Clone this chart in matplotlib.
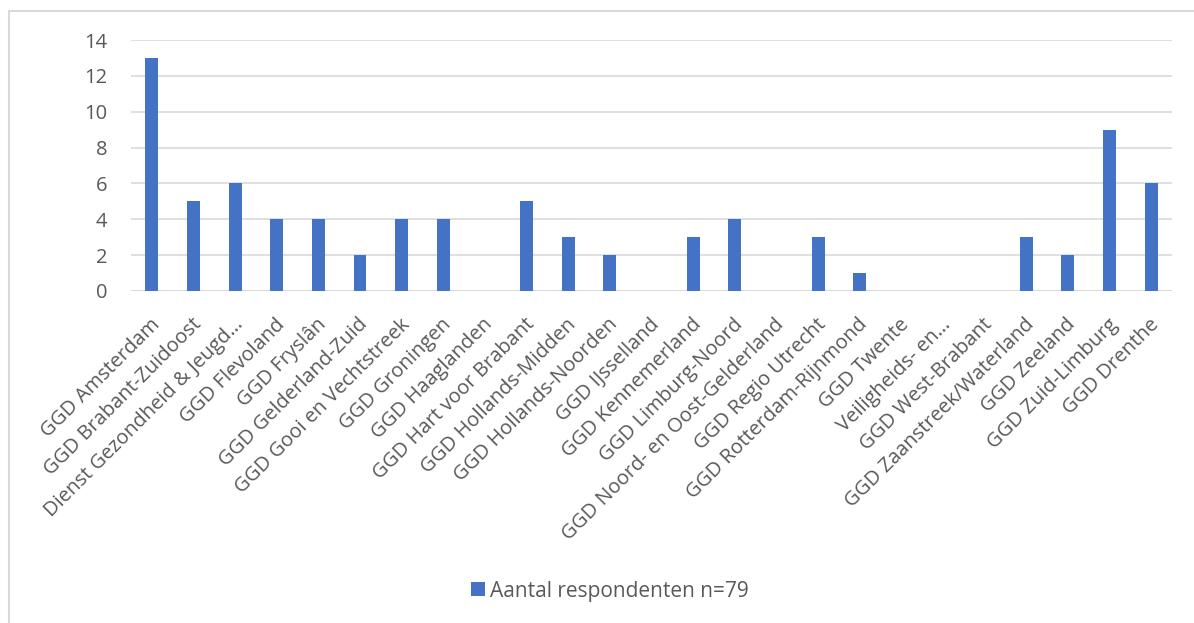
import matplotlib.pyplot as plt
from matplotlib.patches import Rectangle
import matplotlib.transforms as mtransforms

regions = [
    "GGD Amsterdam", "GGD Brabant-Zuidoost", "Dienst Gezondheid & Jeugd…",
    "GGD Flevoland", "GGD Fryslân", "GGD Gelderland-Zuid",
    "GGD Gooi en Vechtstreek", "GGD Groningen", "GGD Haaglanden",
    "GGD Hart voor Brabant", "GGD Hollands-Midden", "GGD Hollands-Noorden",
    "GGD IJsselland", "GGD Kennemerland", "GGD Limburg-Noord",
    "GGD Noord- en Oost-Gelderland", "GGD Regio Utrecht",
    "GGD Rotterdam-Rijnmond", "GGD Twente", "Veiligheids- en…",
    "GGD West-Brabant", "GGD Zaanstreek/Waterland", "GGD Zeeland",
    "GGD Zuid-Limburg", "GGD Drenthe",
]
respondents = [13, 5, 6, 4, 4, 2, 4, 4, 0, 5, 3, 2, 0, 3, 4, 0, 3, 1, 0, 0, 0, 3, 2, 9, 6]
yticks = [0, 2, 4, 6, 8, 10, 12, 14]

plt.rcParams['font.family'] = ['Open Sans', 'DejaVu Sans']
grey = "#595959"

fig = plt.figure(figsize=(11.94, 6.23), dpi=100)
# chart frame (right and bottom edges fall outside the picture)
fig.patches.append(Rectangle((9 / 1194, -0.05), 1.1, 1 - 11 / 623 + 0.05,
                             transform=fig.transFigure, fill=False,
                             edgecolor="#d9d9d9", linewidth=1.5))

ax = fig.add_axes([131 / 1194, 1 - 291 / 623, 1041 / 1194, 251 / 623])
x = range(len(regions))
ax.bar(x, respondents, width=0.31, color="#4472c4", zorder=3,
       label="Aantal respondenten n=79")

ax.set_xlim(-0.5, len(regions) - 0.5)
ax.set_ylim(0, 14)
ax.set_yticks(yticks)
ax.yaxis.grid(True, color="#d9d9d9", linewidth=1.2, zorder=0)
for s in ax.spines.values():
    s.set_visible(False)
ax.axhline(0, color="#d9d9d9", linewidth=1.2, zorder=2)
ax.tick_params(axis="both", length=0, colors=grey, labelsize=14.5)
ax.tick_params(axis="y", pad=17)

ax.set_xticks(list(x))
ax.set_xticklabels(regions, rotation=45, ha="right", va="center",
                   rotation_mode="anchor", fontsize=14.5, color=grey)
offset = mtransforms.ScaledTranslation(3.5 / 72, -18.5 / 72, fig.dpi_scale_trans)
for lbl in ax.get_xticklabels():
    lbl.set_transform(lbl.get_transform() + offset)

fig.legend(loc="center", bbox_to_anchor=(0.511, 1 - 591 / 623), frameon=False,
           fontsize=15, labelcolor=grey, handlelength=0.65, handleheight=0.65,
           handletextpad=0.25)

fig.savefig("out.png", dpi=100)
